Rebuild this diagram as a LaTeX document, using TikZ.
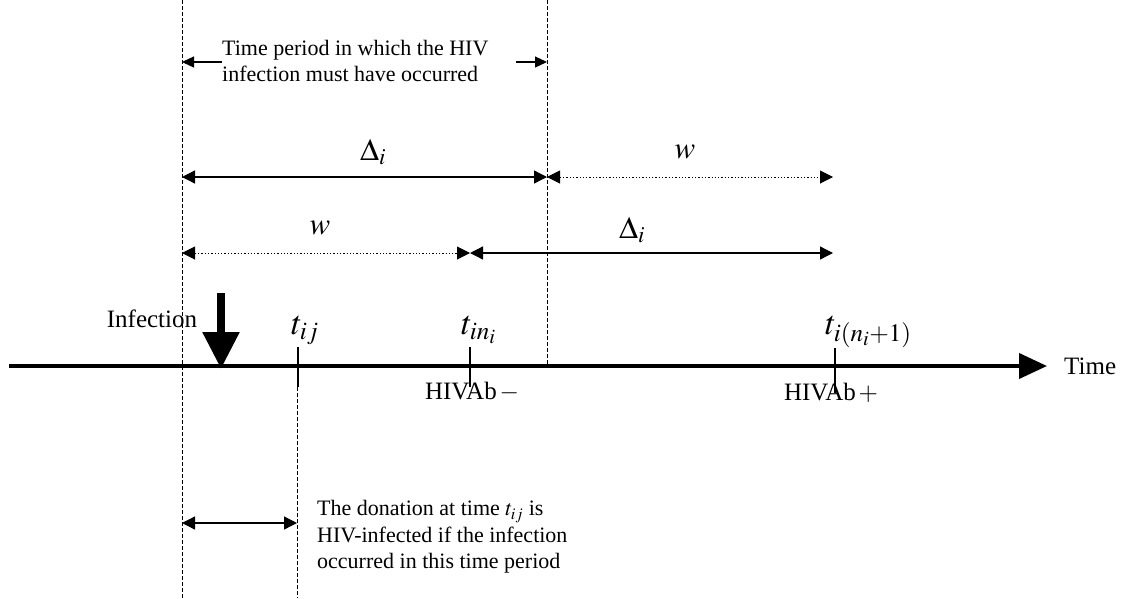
\documentclass[tikz,border=0pt]{standalone}
\usepackage{mathptmx}
\usepackage{fontspec}
\setmainfont{Liberation Serif}
\usetikzlibrary{arrows.meta,positioning}

\begin{document}
\begin{tikzpicture}[x=1pt,y=-1pt,
	guide/.style = {draw, dash pattern=on 4pt off 2pt, line width=0.9pt},
	span/.style = {{Triangle[length=13pt,width=13pt]}-{Triangle[length=13pt,width=13pt]}, line width=1.3pt},
	spandot/.style = {span, dotted, line width=1pt},
	note/.style = {inner sep=0pt, align=left, font=\fontsize{22}{26.5}\selectfont},
	word/.style = {inner sep=0pt, font=\fontsize{25}{30}\selectfont},
	sym/.style = {inner sep=0pt, font=\fontsize{31}{35}\selectfont},
	tlab/.style = {inner sep=0pt, anchor=base west, font=\fontsize{34}{38}\selectfont}]
	\useasboundingbox (0,0) rectangle (1127,598);
	% guide lines
	\coordinate (L0) at (182,0); \coordinate (L1) at (182,598);
	\coordinate (M0) at (547,0); \coordinate (M1) at (547,366);
	\coordinate (J0) at (297,387); \coordinate (J1) at (297,598);
	\draw[guide] (L0) -- (L1);
	\draw[guide] (M0) -- (M1);
	\draw[guide] (J0) -- (J1);
	% time axis
	\coordinate (ax0) at (9,366); \coordinate (ax1) at (1047,366);
	\draw[line width=4pt, -{Triangle[length=28pt,width=25pt]}] (ax0) -- (ax1);
	\node[word, anchor=west] (time) at (1064,366) {Time};
	% infection
	\coordinate (inf0) at (221,293); \coordinate (inf1) at (221,369);
	\draw[line width=8.5pt, -{Triangle[length=37pt,width=35pt]}] (inf0) -- (inf1);
	\node[word] (infection) at (152,319) {Infection};
	% ticks
	\coordinate (tij0) at (298,347); \coordinate (tij1) at (298,387);
	\coordinate (tin0) at (470,347); \coordinate (tin1) at (470,387);
	\coordinate (tn0) at (835,348); \coordinate (tn1) at (835,393);
	\draw[line width=1.5pt] (tij0) -- (tij1);
	\draw[line width=1.5pt] (tin0) -- (tin1);
	\draw[line width=1.5pt] (tn0) -- (tn1);
	\node[tlab] (tij) at (291,334) {$t_{ij}$};
	\node[tlab] (tin) at (461,334) {$t_{in_i}$};
	\node[tlab] (tn) at (825,334) {$t_{i(n_i+1)}$};
	\node[word] (neg) at (472,392) {HIVAb$\,-$};
	\node[word] (pos) at (831,393) {HIVAb$\,+$};
	% top period
	\node[note, anchor=west] (period) at (222,61) {Time period in which the HIV\\infection must have occurred};
	\coordinate (p0) at (182,62); \coordinate (p1) at (547,62);
	\draw[-{Triangle[length=12pt,width=11pt]}, line width=1.3pt] (period.west |- p0) -- (p0);
	\draw[-{Triangle[length=12pt,width=11pt]}, line width=1.3pt] (516,62) -- (p1);
	% first row
	\coordinate (a0) at (182,177); \coordinate (a1) at (547,177); \coordinate (a2) at (833,177);
	\draw[span] (a0) -- (a1);
	\draw[spandot] (a1) -- (a2);
	\node[sym] (d1) at (373,152) {$\Delta_i$};
	\node[sym] (w1) at (685,152) {$w$};
	% second row
	\coordinate (b0) at (182,253); \coordinate (b1) at (470,253); \coordinate (b2) at (833,253);
	\draw[spandot] (b0) -- (b1);
	\draw[span] (b1) -- (b2);
	\node[sym] (w2) at (320,228) {$w$};
	\node[sym] (d2) at (632,230) {$\Delta_i$};
	% donation period
	\coordinate (c0) at (182,523); \coordinate (c1) at (297,523);
	\draw[span] (c0) -- (c1);
	\node[note, anchor=west] (donation) at (317,537) {The donation at time $t_{ij}$ is\\HIV-infected if the infection\\occurred in this time period};
\end{tikzpicture}
\end{document}
